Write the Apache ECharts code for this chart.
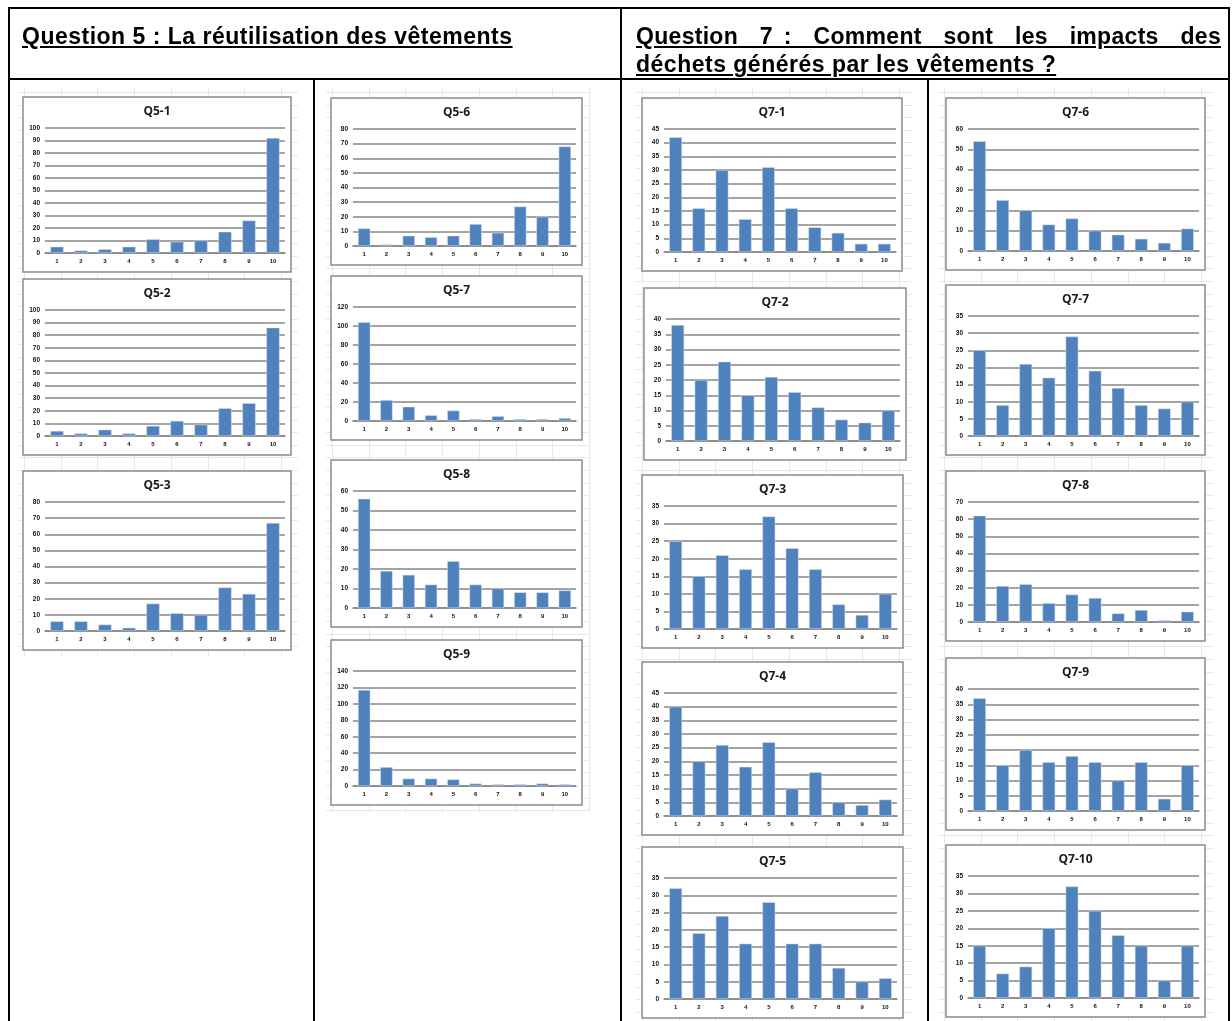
<!DOCTYPE html>
<html>
<head>
<meta charset="utf-8">
<script src="https://cdn.jsdelivr.net/npm/echarts@6/dist/echarts.min.js"></script>
<style>
html,body{margin:0;padding:0;background:#fff;width:1232px;height:1021px;overflow:hidden;}
.ln{position:absolute;background:#000;z-index:2;}
.hd{position:absolute;font-family:"Liberation Sans",Arial,sans-serif;font-weight:bold;font-size:23px;letter-spacing:0.5px;text-decoration:underline;color:#000;line-height:27px;z-index:2;}
#chart{position:absolute;left:0;top:0;width:1232px;height:1021px;z-index:1;}
</style>
</head>
<body>
<div class="ln" style="left:8px;top:7px;width:1222px;height:2px;"></div>
<div class="ln" style="left:8px;top:78px;width:1222px;height:2px;"></div>
<div class="ln" style="left:8px;top:7px;width:2px;height:1014px;"></div>
<div class="ln" style="left:620px;top:7px;width:2px;height:1014px;"></div>
<div class="ln" style="left:1228px;top:7px;width:2px;height:1014px;"></div>
<div class="ln" style="left:313px;top:79px;width:2px;height:942px;"></div>
<div class="ln" style="left:927px;top:79px;width:2px;height:942px;"></div>
<div class="hd" style="left:22px;top:23px;">Question 5 : La réutilisation des vêtements</div>
<div class="hd" style="left:636px;top:23px;width:585px;text-align:justify;text-align-last:justify;letter-spacing:0.3px;">Question&nbsp; 7&nbsp;:&nbsp; Comment&nbsp; sont&nbsp; les&nbsp; impacts&nbsp; des</div>
<div class="hd" style="left:636px;top:51px;">déchets générés par les vêtements ?</div>
<div id="chart"></div>
<script>
const categories = ['1','2','3','4','5','6','7','8','9','10'];
const titles = ['Q5-1','Q5-2','Q5-3','Q5-6','Q5-7','Q5-8','Q5-9','Q7-1','Q7-2','Q7-3','Q7-4','Q7-5','Q7-6','Q7-7','Q7-8','Q7-9','Q7-10'];
const q5_1 = [5, 2, 3, 5, 11, 9, 10, 17, 26, 92];
const q5_2 = [4, 2, 5, 2, 8, 12, 9, 22, 26, 86];
const q5_3 = [6, 6, 4, 2, 17, 11, 10, 27, 23, 67];
const q5_6 = [12, 1, 7, 6, 7, 15, 9, 27, 20, 68];
const q5_7 = [104, 22, 15, 6, 11, 2, 5, 2, 2, 3];
const q5_8 = [56, 19, 17, 12, 24, 12, 10, 8, 8, 9];
const q5_9 = [117, 23, 9, 9, 8, 3, 2, 2, 3, 2];
const q7_1 = [42, 16, 30, 12, 31, 16, 9, 7, 3, 3];
const q7_2 = [38, 20, 26, 15, 21, 16, 11, 7, 6, 10];
const q7_3 = [25, 15, 21, 17, 32, 23, 17, 7, 4, 10];
const q7_4 = [40, 20, 26, 18, 27, 10, 16, 5, 4, 6];
const q7_5 = [32, 19, 24, 16, 28, 16, 16, 9, 5, 6];
const q7_6 = [54, 25, 20, 13, 16, 10, 8, 6, 4, 11];
const q7_7 = [25, 9, 21, 17, 29, 19, 14, 9, 8, 10];
const q7_8 = [62, 21, 22, 11, 16, 14, 5, 7, 1, 6];
const q7_9 = [37, 15, 20, 16, 18, 16, 10, 16, 4, 15];
const q7_10 = [15, 7, 9, 20, 32, 25, 18, 15, 5, 15];
const axisMax = [100, 100, 80, 80, 120, 60, 140, 45, 40, 35, 45, 35, 60, 35, 70, 40, 35];
const axisStep = [10, 10, 10, 10, 20, 10, 20, 5, 5, 5, 5, 5, 10, 5, 10, 5, 5];
const seriesData = [q5_1,q5_2,q5_3,q5_6,q5_7,q5_8,q5_9,q7_1,q7_2,q7_3,q7_4,q7_5,q7_6,q7_7,q7_8,q7_9,q7_10];

// frames: [left, top, right, bottom]
const frames = [
  [23, 97, 291, 272],
  [23, 279, 291, 455],
  [23, 471, 291, 650],
  [331, 98, 582, 265],
  [331, 276, 582, 440],
  [331, 460, 582, 627],
  [331, 640, 582, 805],
  [642, 98, 902, 271],
  [644, 288, 906, 460],
  [642, 475, 903, 648],
  [642, 662, 903, 835],
  [642, 847, 903, 1018],
  [946, 98, 1205, 270],
  [946, 285, 1205, 455],
  [946, 471, 1205, 641],
  [946, 658, 1205, 830],
  [946, 845, 1205, 1017]
];
// faint spreadsheet cell-grid regions behind the charts: [left, top, right, bottom]
const sheetAreas = [
  [18, 88, 298, 656],
  [326, 88, 590, 812],
  [636, 88, 912, 1021],
  [938, 88, 1214, 1021]
];

const chart = echarts.init(document.getElementById('chart'), null, {renderer:'canvas'});
const grids = [], xAxes = [], yAxes = [], series = [], graphics = [];
sheetAreas.forEach(a => {
  const [l, t, r, b] = a;
  for (let x = l + 6; x <= r; x += 36.7) {
    graphics.push({type:'line', shape:{x1:Math.round(x)+0.5, y1:t, x2:Math.round(x)+0.5, y2:b}, style:{stroke:'#e8e8e8', lineWidth:1}, z:-5});
  }
  for (let y = t + 4; y <= b; y += 12.6) {
    graphics.push({type:'line', shape:{x1:l, y1:Math.round(y)+0.5, x2:r, y2:Math.round(y)+0.5}, style:{stroke:'#e8e8e8', lineWidth:1}, z:-5});
  }
});
frames.forEach((f, i) => {
  const [l, t, r, b] = f;
  graphics.push({type:'rect', shape:{x:l, y:t, width:r-l, height:b-t}, style:{fill:'#fff', stroke:'#8a8a8a', lineWidth:1.5}, z:-1});
  graphics.push({type:'text', x:(l+r)/2, y:t+9, z:10,
    style:{text:titles[i], textAlign:'center', textVerticalAlign:'top', fill:'#1a1a1a',
      font:'bold 12px "Open Sans","Liberation Sans",sans-serif'}});
  grids.push({left:l+22, top:t+31, width:(r-6)-(l+22), height:(b-19)-(t+31), containLabel:false});
  xAxes.push({type:'category', gridIndex:i, data:categories,
    axisLine:{show:true, lineStyle:{color:'#868686', width:1.5}},
    axisTick:{show:false},
    axisLabel:{fontSize:6, color:'#111', margin:5, fontWeight:'bold', interval:0}});
  yAxes.push({type:'value', gridIndex:i, min:0, max:axisMax[i], interval:axisStep[i],
    axisLine:{show:false}, axisTick:{show:false},
    splitLine:{lineStyle:{color:'#868686', width:1.5}},
    axisLabel:{fontSize:6.5, color:'#111', margin:5, fontWeight:'bold'}});
  series.push({type:'bar', xAxisIndex:i, yAxisIndex:i, data:seriesData[i], barCategoryGap:'45%',
    itemStyle:{color:'#4F81BD', borderColor:'#d8e2f0', borderWidth:0.5}, animation:false});
});
chart.setOption({
  animation:false,
  backgroundColor:'transparent',
  grid:grids, xAxis:xAxes, yAxis:yAxes, series:series,
  graphic:graphics
});
</script>
</body>
</html>
